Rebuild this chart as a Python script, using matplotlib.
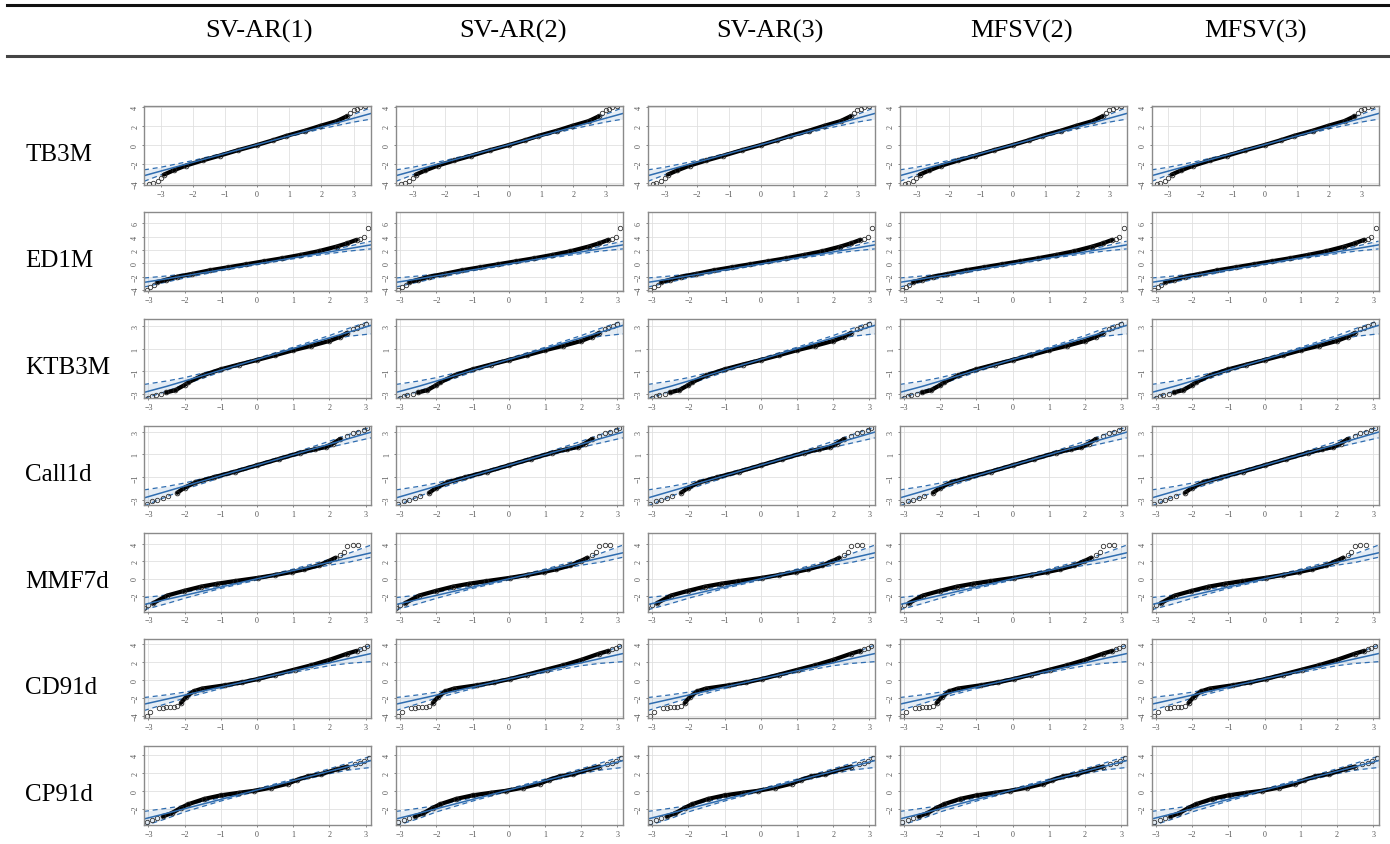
# -*- coding: utf-8 -*-
import matplotlib
matplotlib.use("Agg")
import matplotlib.pyplot as plt
from matplotlib.lines import Line2D

# column / row titles
models = ["SV-AR(1)", "SV-AR(2)", "SV-AR(3)", "MFSV(2)", "MFSV(3)"]
series = ["TB3M", "ED1M", "KTB3M", "Call1d", "MMF7d", "CD91d", "CP91d"]

# dense body of each QQ plot: theoretical (q) vs sample (s) quantiles
tb3m_q = [-2.9, -2.6, -2.22, -1.7, -1.17, -0.6, 0.0, 0.5, 0.91, 1.5, 1.96, 2.48, 2.79]
tb3m_s = [-3.1, -2.65, -2.16, -1.62, -1.12, -0.55, 0.0, 0.5, 0.95, 1.5, 1.99, 2.5, 3.0]
ed1m_q = [-2.75, -2.5, -2.2, -1.8, -1.3, -0.8, -0.3, 0.2, 0.7, 1.2, 1.7, 2.2, 2.5, 2.75]
ed1m_s = [-2.8, -2.45, -2.0, -1.6, -1.05, -0.6, -0.15, 0.3, 0.75, 1.25, 1.8, 2.5, 3.0, 3.5]
ktb3m_q = [-2.5, -2.25, -2.0, -1.9, -1.5, -1.0, -0.5, 0.0, 0.5, 1.0, 1.5, 2.0, 2.3, 2.5]
ktb3m_s = [-2.85, -2.65, -2.2, -1.97, -1.35, -0.82, -0.4, 0.0, 0.42, 0.86, 1.25, 1.68, 2.05, 2.4]
call_q = [-2.2, -2.0, -1.7, -1.2, -0.6, 0.0, 0.6, 1.2, 1.6, 1.9, 2.1, 2.3]
call_s = [-2.35, -1.9, -1.45, -1.0, -0.5, 0.05, 0.6, 1.15, 1.45, 1.65, 1.95, 2.35]
mmf_q = [-2.86, -2.48, -2.02, -1.55, -1.1, -0.62, 0.03, 0.5, 0.96, 1.3, 1.7, 1.98, 2.17]
mmf_s = [-2.83, -1.96, -1.43, -0.94, -0.6, -0.3, 0.08, 0.4, 0.75, 1.05, 1.51, 2.0, 2.4]
cd_q = [-2.1, -1.95, -1.75, -1.52, -0.88, -0.4, 0.03, 0.5, 1.04, 1.5, 2.0, 2.5, 2.75]
cd_s = [-2.6, -1.9, -1.3, -1.0, -0.63, -0.3, 0.07, 0.55, 1.12, 1.6, 2.2, 2.9, 3.2]
cp_q = [-2.6, -2.36, -2.1, -1.9, -1.45, -0.99, -0.5, -0.07, 0.4, 0.85, 1.1, 1.4, 1.77, 2.22, 2.5]
cp_s = [-2.85, -2.5, -1.9, -1.5, -0.9, -0.5, -0.22, 0.0, 0.35, 0.79, 1.2, 1.6, 1.86, 2.4, 2.7]

# sparse tail points (drawn as open circles only)
tb3m_tq = [-3.35, -3.25, -3.1, -3.0, 2.9, 3.0, 3.1, 3.2, 3.35]
tb3m_ts = [-4.05, -4.0, -3.8, -3.5, 3.3, 3.6, 3.8, 3.95, 4.05]
ed1m_tq = [-3.05, -2.95, -2.85, 2.85, 2.95, 3.08]
ed1m_ts = [-4.0, -3.5, -3.2, 3.7, 3.9, 5.3]
ktb3m_tq = [-3.0, -2.9, -2.8, -2.65, 2.65, 2.75, 2.87, 3.0]
ktb3m_ts = [-3.3, -3.2, -3.1, -3.0, 2.7, 2.85, 3.0, 3.15]
call_tq = [-3.05, -2.9, -2.75, -2.6, -2.45, 2.5, 2.65, 2.8, 2.95, 3.05]
call_ts = [-3.3, -3.1, -2.95, -2.8, -2.6, 2.6, 2.85, 3.0, 3.15, 3.3]
mmf_tq = [-3.13, -3.0, 2.3, 2.4, 2.5, 2.65, 2.8]
mmf_ts = [-3.4, -3.1, 2.7, 3.1, 3.8, 3.85, 3.9]
cd_tq = [-3.05, -2.95, -2.7, -2.6, -2.5, -2.4, -2.3, -2.2, 2.85, 2.95, 3.05]
cd_ts = [-4.0, -3.6, -3.15, -3.12, -3.1, -3.08, -3.05, -2.95, 3.4, 3.55, 3.7]
cp_tq = [-3.05, -2.9, -2.75, 2.7, 2.85, 2.96, 3.1]
cp_ts = [-3.5, -3.2, -3.0, 2.95, 3.15, 3.3, 3.6]

# reference line and envelope, read at the env x positions
tb3m_ex = [-3.52, -3.0, -2.0, -1.0, 0.0, 1.0, 2.0, 3.0, 3.54]
tb3m_line = [-3.21, -2.73, -1.81, -0.89, 0.03, 0.95, 1.87, 2.79, 3.29]
tb3m_up = [-2.6, -2.33, -1.63, -0.8, 0.1, 1.04, 2.05, 3.19, 3.9]
tb3m_lo = [-3.8, -3.13, -1.99, -0.98, -0.04, 0.86, 1.69, 2.39, 2.7]

env_x = [-3.12, -2.5, -2.0, -1.0, 0.0, 1.0, 2.0, 2.5, 3.15]
ed1m_line = [-2.85, -2.33, -1.88, -0.98, -0.09, 0.81, 1.70, 2.15, 2.75]
ed1m_up = [-2.2, -1.9, -1.6, -0.85, 0.05, 0.95, 1.98, 2.5, 3.3]
ed1m_lo = [-3.55, -2.8, -2.2, -1.12, -0.22, 0.67, 1.45, 1.8, 2.15]
ktb3m_line = [-2.85, -2.32, -1.85, -0.90, 0.05, 1.0, 1.95, 2.42, 3.05]
ktb3m_up = [-2.15, -1.85, -1.55, -0.75, 0.15, 1.12, 2.15, 2.75, 3.45]
ktb3m_lo = [-3.4, -2.75, -2.15, -1.05, -0.05, 0.87, 1.72, 2.08, 2.3]
call_line = [-2.8, -2.23, -1.77, -0.86, 0.06, 0.97, 1.89, 2.35, 2.95]
call_up = [-2.1, -1.8, -1.5, -0.7, 0.18, 1.12, 2.15, 2.7, 3.4]
call_lo = [-3.5, -2.7, -2.05, -1.02, -0.07, 0.82, 1.62, 1.98, 2.45]
mmf_line = [-3.0, -2.41, -1.94, -0.98, -0.03, 0.92, 1.87, 2.34, 2.96]
mmf_up = [-2.2, -1.9, -1.6, -0.82, 0.1, 1.08, 2.2, 2.85, 3.85]
mmf_lo = [-3.6, -2.9, -2.28, -1.14, -0.17, 0.76, 1.54, 1.85, 2.45]
cd_line = [-2.74, -2.18, -1.73, -0.83, 0.07, 0.97, 1.87, 2.32, 2.90]
cd_up = [-2.0, -1.7, -1.4, -0.65, 0.22, 1.15, 2.2, 2.85, 3.85]
cd_lo = [-3.45, -2.68, -2.07, -1.0, -0.08, 0.8, 1.55, 1.8, 2.0]
cp_line = [-3.14, -2.52, -2.0, -0.96, 0.09, 1.13, 2.17, 2.69, 3.36]
cp_up = [-2.3, -1.95, -1.65, -0.78, 0.22, 1.3, 2.45, 3.05, 3.85]
cp_lo = [-3.9, -3.1, -2.35, -1.14, -0.04, 0.96, 1.9, 2.3, 2.6]

# axis ranges and y ticks per row
xlims = [(-3.52, 3.54)] + [(-3.12, 3.15)] * 6
ylims = [(-4.15, 4.1), (-4.2, 7.6), (-3.35, 3.6), (-3.4, 3.5), (-3.8, 5.3), (-4.3, 4.5), (-3.8, 5.0)]
yticks = [[-4, -2, 0, 2, 4], [-4, -2, 0, 2, 4, 6], [-3, -1, 1, 3], [-3, -1, 1, 3],
          [-2, 0, 2, 4], [-4, -2, 0, 2, 4], [-2, 0, 2, 4]]

rows = [
    (tb3m_q, tb3m_s, tb3m_tq, tb3m_ts, tb3m_ex, tb3m_line, tb3m_up, tb3m_lo),
    (ed1m_q, ed1m_s, ed1m_tq, ed1m_ts, env_x, ed1m_line, ed1m_up, ed1m_lo),
    (ktb3m_q, ktb3m_s, ktb3m_tq, ktb3m_ts, env_x, ktb3m_line, ktb3m_up, ktb3m_lo),
    (call_q, call_s, call_tq, call_ts, env_x, call_line, call_up, call_lo),
    (mmf_q, mmf_s, mmf_tq, mmf_ts, env_x, mmf_line, mmf_up, mmf_lo),
    (cd_q, cd_s, cd_tq, cd_ts, env_x, cd_line, cd_up, cd_lo),
    (cp_q, cp_s, cp_tq, cp_ts, env_x, cp_line, cp_up, cp_lo),
]

W, H = 1390, 845
BLUE = "#2f6db0"


def px_axes(fig, left, top, w, h):
    return fig.add_axes([left / W, 1 - (top + h) / H, w / W, h / H])


def qq_panel(ax, i):
    q, s, tq, ts, ex, line, up, lo = rows[i]
    # envelope band
    ax.fill_between(ex, lo, up, color=BLUE, alpha=0.12, lw=0)
    ax.plot(ex, up, "--", color=BLUE, lw=0.9, dashes=(4, 3))
    ax.plot(ex, lo, "--", color=BLUE, lw=0.9, dashes=(4, 3))
    # dense points + tails
    ax.plot(q, s, "-", color="black", lw=3.0, solid_capstyle="round", solid_joinstyle="round")
    ax.plot(q, s, "o", mfc="none", mec="#222222", ms=3.4, mew=0.6)
    ax.plot(tq, ts, "o", mfc="none", mec="#333333", ms=3.2, mew=0.6)
    # reference line
    ax.plot(ex, line, "-", color=BLUE, lw=1.1)
    ax.set_xlim(*xlims[i])
    ax.set_ylim(*ylims[i])
    ax.set_xticks([-3, -2, -1, 0, 1, 2, 3])
    ax.set_yticks(yticks[i])
    ax.grid(True, color="#e0e0e0", lw=0.6)
    ax.set_axisbelow(True)
    ax.tick_params(labelsize=5.8, colors="#555555", length=1.5, width=0.5, pad=2)
    for lab in ax.get_yticklabels():
        lab.set_rotation(90)
        lab.set_va("center")
    for sp in ax.spines.values():
        sp.set_color("#8a8a8a")
        sp.set_linewidth(1.0)


def run():
    plt.rcParams["font.family"] = ["Liberation Serif", "DejaVu Serif"]
    fig = plt.figure(figsize=(W / 100, H / 100), dpi=100)

    # table rules
    fig.add_artist(Line2D([7 / W, 1], [1 - 6 / H, 1 - 6 / H], color="#111111", lw=2.2))
    fig.add_artist(Line2D([7 / W, 1], [1 - 57 / H, 1 - 57 / H], color="#444444", lw=2.2))

    head_x = [259, 513, 770, 1022, 1255]
    for name, hx in zip(models, head_x):
        fig.text(hx / W, 1 - 31 / H, name, ha="center", va="center", fontsize=19)

    for i, name in enumerate(series):
        top = 106.7 + 106.7 * i
        fig.text(25 / W, 1 - (top + 48) / H, name, ha="left", va="center", fontsize=18)
        for j in range(5):
            left = 144 + 251.9 * j
            ax = px_axes(fig, left, top, 227, 79)
            qq_panel(ax, i)

    fig.savefig("out.png", dpi=100)


if __name__ == '__main__':
    run()
